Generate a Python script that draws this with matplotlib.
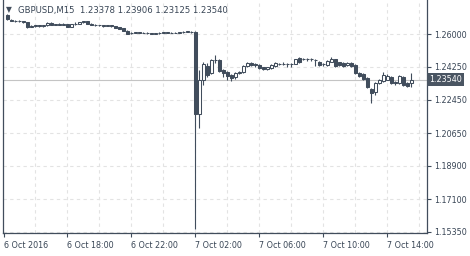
import matplotlib
matplotlib.use('Agg')
import matplotlib.pyplot as plt
from matplotlib.ticker import FixedLocator

# ---- data (GBPUSD M15) ----
opens = [1.2702, 1.2678, 1.2672, 1.2668, 1.2670, 1.2662, 1.2640, 1.2645, 1.2646, 1.2645,
         1.2646, 1.2660, 1.2650, 1.2652, 1.2651, 1.2654, 1.2638, 1.2653, 1.2655, 1.2664,
         1.2668, 1.2655, 1.2649, 1.2647, 1.2646, 1.2644, 1.2646, 1.2643, 1.2636, 1.2630,
         1.2618, 1.2603, 1.2606, 1.2609, 1.2607, 1.2608, 1.2606, 1.2601, 1.2604, 1.2607,
         1.2609, 1.2606, 1.2608, 1.2607, 1.2609, 1.2612, 1.2613, 1.2611,
         1.2170, 1.2353, 1.2428, 1.2390, 1.2458, 1.2460, 1.2406, 1.2396, 1.2379, 1.2369,
         1.2390, 1.2396, 1.2428, 1.2444, 1.2436, 1.2433, 1.2422, 1.2412, 1.2417, 1.2428,
         1.2439, 1.2438, 1.2440, 1.2439, 1.2439, 1.2471,
         1.2463, 1.2465, 1.2463, 1.2462, 1.2449, 1.2436, 1.2433, 1.2452, 1.2463, 1.2447,
         1.2444, 1.2433, 1.2444, 1.2433, 1.2390, 1.2385, 1.2363, 1.2304, 1.2288, 1.2336,
         1.2347, 1.2353, 1.2369, 1.2340, 1.2336, 1.2369, 1.2336, 1.23378]
highs = [1.2708, 1.2680, 1.2675, 1.2673, 1.2672, 1.2664, 1.2648, 1.2648, 1.2648, 1.2649,
         1.2663, 1.2662, 1.2656, 1.2657, 1.2659, 1.2656, 1.2655, 1.2662, 1.2667, 1.2672,
         1.2670, 1.2658, 1.2653, 1.2651, 1.2649, 1.2649, 1.2648, 1.2645, 1.2638, 1.2632,
         1.2620, 1.2610, 1.2612, 1.2612, 1.2611, 1.2610, 1.2608, 1.2606, 1.2609, 1.2611,
         1.2611, 1.2610, 1.2611, 1.2612, 1.2614, 1.2617, 1.2615, 1.2614,
         1.2406, 1.2449, 1.2444, 1.2466, 1.2487, 1.2466, 1.2410, 1.2400, 1.2385, 1.2396,
         1.2400, 1.2433, 1.2449, 1.2447, 1.2444, 1.2436, 1.2425, 1.2425, 1.2436, 1.2447,
         1.2444, 1.2447, 1.2442, 1.2442, 1.2468, 1.2476,
         1.2471, 1.2471, 1.2471, 1.2463, 1.2455, 1.2444, 1.2458, 1.2476, 1.2468, 1.2452,
         1.2447, 1.2447, 1.2447, 1.2436, 1.2393, 1.2388, 1.2366, 1.2310, 1.2340, 1.2358,
         1.2396, 1.2385, 1.2374, 1.2345, 1.2379, 1.2374, 1.2340, 1.23906]
lows = [1.2675, 1.2668, 1.2665, 1.2663, 1.2659, 1.2632, 1.2636, 1.2638, 1.2637, 1.2635,
        1.2644, 1.2648, 1.2647, 1.2646, 1.2648, 1.2636, 1.2636, 1.2650, 1.2653, 1.2660,
        1.2652, 1.2647, 1.2644, 1.2643, 1.2640, 1.2641, 1.2640, 1.2632, 1.2626, 1.2615,
        1.2598, 1.2600, 1.2603, 1.2604, 1.2603, 1.2602, 1.2598, 1.2598, 1.2602, 1.2604,
        1.2603, 1.2603, 1.2604, 1.2605, 1.2607, 1.2610, 1.2607, 1.1551,
        1.2094, 1.2326, 1.2369, 1.2385, 1.2444, 1.2396, 1.2369, 1.2353, 1.2347, 1.2360,
        1.2385, 1.2390, 1.2422, 1.2430, 1.2422, 1.2414, 1.2409, 1.2409, 1.2414, 1.2425,
        1.2433, 1.2433, 1.2425, 1.2425, 1.2436, 1.2444,
        1.2458, 1.2455, 1.2455, 1.2428, 1.2430, 1.2428, 1.2430, 1.2449, 1.2425, 1.2430,
        1.2425, 1.2430, 1.2425, 1.2385, 1.2369, 1.2353, 1.2310, 1.2229, 1.2272, 1.2331,
        1.2342, 1.2350, 1.2331, 1.2326, 1.2331, 1.2320, 1.2315, 1.23125]
closes = [1.2681, 1.2672, 1.2668, 1.2669, 1.2662, 1.2636, 1.2645, 1.2646, 1.2645, 1.2647,
          1.2660, 1.2650, 1.2652, 1.2651, 1.2654, 1.2638, 1.2653, 1.2656, 1.2664, 1.2668,
          1.2655, 1.2649, 1.2647, 1.2646, 1.2644, 1.2646, 1.2643, 1.2634, 1.2628, 1.2617,
          1.2602, 1.2606, 1.2609, 1.2607, 1.2606, 1.2604, 1.2600, 1.2604, 1.2607, 1.2609,
          1.2606, 1.2608, 1.2607, 1.2609, 1.2612, 1.2614, 1.2610, 1.2167,
          1.2353, 1.2439, 1.2379, 1.2460, 1.2462, 1.2401, 1.2390, 1.2374, 1.2363, 1.2390,
          1.2394, 1.2428, 1.2444, 1.2433, 1.2435, 1.2417, 1.2412, 1.2422, 1.2433, 1.2444,
          1.2436, 1.2440, 1.2439, 1.2440, 1.2466, 1.2449,
          1.2465, 1.2463, 1.2465, 1.2460, 1.2433, 1.2438, 1.2455, 1.2468, 1.2430, 1.2433,
          1.2428, 1.2444, 1.2428, 1.2390, 1.2374, 1.2358, 1.2315, 1.2283, 1.2336, 1.2353,
          1.2379, 1.2374, 1.2336, 1.2338, 1.2374, 1.2326, 1.2320, 1.23540]

ytick_values = [1.26000, 1.24250, 1.22450, 1.20650, 1.18900, 1.17100, 1.15350]
ytick_labels = ["1.26000", "1.24250", "1.22450", "1.20650", "1.18900", "1.17100", "1.15350"]
xtick_bars = [-1, 15, 31, 47, 63, 79, 95]
xtick_labels = ["6 Oct 2016", "6 Oct 18:00", "6 Oct 22:00", "7 Oct 02:00",
                "7 Oct 06:00", "7 Oct 10:00", "7 Oct 14:00"]
title = "GBPUSD,M15  1.23378 1.23906 1.23125 1.23540"
last_price = 1.23540

# ---- style ----
dark = "#414d5c"
txt = "#384555"
grid_c = "#e3e3e3"
plt.rcParams['font.family'] = ['DejaVu Sans']
fs = 5.8

W, H = 470, 256
fig = plt.figure(figsize=(W / 100, H / 100), dpi=100)
left_px, right_px, bottom_px, top_px = 3, 427, 233, 0
ax = fig.add_axes([left_px / W, (H - bottom_px) / H,
                   (right_px - left_px) / W, (bottom_px - top_px) / H])

n = len(opens)
xs = list(range(n))

# grid
for yv in ytick_values:
    ax.axhline(yv, color=grid_c, lw=0.8, ls=(0, (3, 3)), zorder=0)
for xv in range(7, 106, 8):
    ax.axvline(xv, color=grid_c, lw=0.8, ls=(0, (3, 3)), zorder=0)

# current price line
ax.axhline(last_price, color="#c4c4c4", lw=0.8, zorder=1)

# candles
ax.vlines(xs, lows, highs, color=dark, lw=0.8, zorder=2)
for x, o, h, l, c in zip(xs, opens, highs, lows, closes):
    bull = c >= o
    ax.bar(x, c - o, bottom=o, width=0.55,
           facecolor="white" if bull else dark, edgecolor=dark,
           linewidth=0.75, zorder=3)

ax.set_xlim(-1.125, 104.875)
ax.set_ylim(1.15295, 1.27829)

# spines
ax.spines["top"].set_visible(False)
for s in ["left", "right", "bottom"]:
    ax.spines[s].set_color(dark)
    ax.spines[s].set_linewidth(0.9)

# ticks
ax.yaxis.tick_right()
ax.yaxis.set_major_locator(FixedLocator(ytick_values))
ax.set_yticklabels(ytick_labels)
ax.xaxis.set_major_locator(FixedLocator(xtick_bars))
ax.set_xticklabels(xtick_labels, ha="left")
ax.tick_params(axis="both", colors=dark, labelcolor=txt, labelsize=fs,
               length=3, width=0.8, pad=2)
ax.tick_params(axis="x", pad=2.5)

# price label on the right
ax.annotate("1.23540", xy=(1.0, last_price), xycoords=("axes fraction", "data"),
            xytext=(1.5, 0), textcoords="offset points", ha="left", va="center",
            fontsize=fs, color="white", annotation_clip=False,
            bbox=dict(boxstyle="square,pad=0.25", facecolor="#4a5562", edgecolor="none"))

# title
fig.text(6 / W, 1 - 9.5 / H, "\u25bc", fontsize=5.5, color=dark, va="center", ha="left")
fig.text(18 / W, 1 - 10 / H, title, fontsize=6.1, color=txt, va="center", ha="left")

fig.savefig("out.png", dpi=100)
